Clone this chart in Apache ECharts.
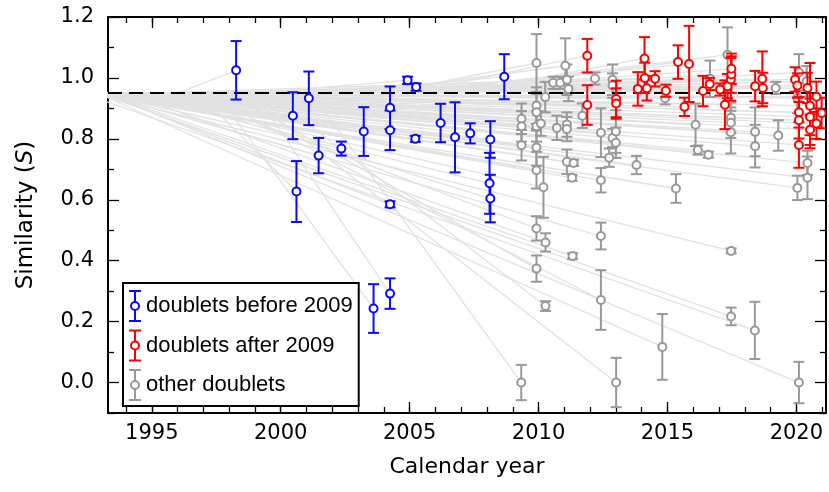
<!DOCTYPE html>
<html><head><meta charset="utf-8">
<script src="https://cdn.jsdelivr.net/npm/echarts@6/dist/echarts.min.js"></script>
<style>html,body{margin:0;padding:0;background:#fff}#c{width:829px;height:492px}</style>
</head><body><div id="c"></div>
<script>
const xMin = 1993.3, xMax = 2021.15, yMin = -0.1, yMax = 1.2;
const threshold = 0.95;
const xMajor = [1995, 2000, 2005, 2010, 2015, 2020];
const xMinor = [1994,1995,1996,1997,1998,1999,2000,2001,2002,2003,2004,2005,2006,2007,2008,2009,2010,2011,2012,2013,2014,2015,2016,2017,2018,2019,2020,2021];
const yMajor = [0, 0.2, 0.4, 0.6, 0.8, 1.0, 1.2];
const yMinor = [-0.1, 0.1, 0.3, 0.5, 0.7, 0.9, 1.1];

// doublets before 2009 (blue)
const blueYear  = [1998.27,2000.47,2000.61,2001.09,2001.47,2002.35,2003.22,2003.6,2004.24,2004.24,2004.24,2004.24,2004.92,2005.25,2005.22,2006.2,2006.76,2007.35,2008.13,2008.1,2008.13,2008.67];
const blueS     = [1.025,0.876,0.627,0.933,0.745,0.768,0.824,0.243,0.902,0.828,0.585,0.292,0.992,0.97,0.80,0.852,0.805,0.818,0.798,0.654,0.604,1.004];
const blueErr   = [0.096,0.077,0.10,0.088,0.058,0.023,0.08,0.08,0.07,0.065,0.01,0.05,0.012,0.012,0.01,0.063,0.115,0.033,0.06,0.10,0.078,0.074];
const blueStart = [1996.0,1992.9,1996.8,1992.7,1993.0,1992.9,1992.7,1997.5,1992.5,1993.0,1993.1,1999,1999,1996,1992.9,1993.1,1993.0,1992.7,1992.9,1994,1995,2002];

// doublets after 2009 (red)
const redYear  = [2011.89,2011.89,2013.01,2013.01,2013.85,2014.11,2014.12,2014.2,2014.52,2014.94,2015.41,2015.84,2015.66,2016.38,2016.64,2017.04,2017.33,2017.23,2017.46,2017.48,2017.48,2018.4,2018.68,2018.7,2019.95,2020.04,2020.1,2020.1,2020.1,2020.43,2020.53,2020.53,2020.53,2020.78,2020.78,2020.98];
const redS     = [1.073,0.911,0.931,0.916,0.964,1.064,1.0,0.966,0.997,0.958,1.052,1.046,0.905,0.957,0.98,0.962,0.973,0.912,0.995,1.011,1.03,0.973,0.997,0.967,0.995,0.975,0.887,0.861,0.78,0.967,0.909,0.872,0.83,0.938,0.85,0.885];
const redErr   = [0.055,0.065,0.06,0.05,0.055,0.07,0.05,0.04,0.025,0.02,0.055,0.125,0.03,0.05,0.02,0.02,0.04,0.08,0.07,0.06,0.05,0.05,0.09,0.05,0.04,0.04,0.05,0.06,0.075,0.05,0.14,0.06,0.05,0.05,0.05,0.05];
const redStart = [2005,1992.9,1993.0,1992.7,1998,2007,2001,1996,2000,1994,2006,2004,1992.9,1995,1999,1993.1,1997,1992.7,2000,2002,2004,1998,2001,1996,2000,1997,1992.9,1992.7,1992.5,1995,1993.0,1992.7,1992.9,1993.1,1992.7,1993.0];

// other doublets (gray)
const grayYear  = [2009.34,2009.34,2009.34,2009.92,2009.92,2009.92,2009.92,2009.92,2009.92,2010.09,2010.19,2010.26,2010.57,2010.84,2010.71,2011.04,2011.1,2011.16,2011.1,2011.1,2011.1,2011.36,2011.3,2011.7,2012.19,2012.42,2012.42,2012.74,2012.87,2013.0,2013.0,2012.87,2012.87,2013.8,2014.91,2015.33,2016.09,2016.18,2016.59,2016.65,2017.33,2017.46,2017.46,2017.46,2018.4,2018.4,2019.2,2019.3,2020.04,2020.43,2020.43,2020.1,2020.4,2020.04,
  2009.92,2010.27,2009.92,2010.27,2011.32,2012.42,2012.42,2014.8,2017.47,2017.47,2018.39,2020.1,2009.33,2013.01];
const grayS     = [0.866,0.841,0.779,1.049,0.909,0.887,0.841,0.772,0.697,0.85,0.641,0.937,0.984,0.984,0.836,1.04,0.994,0.964,0.847,0.832,0.725,0.721,0.672,0.876,0.998,0.82,0.664,0.738,0.803,0.824,0.787,0.994,0.975,0.714,0.933,0.637,0.846,0.763,0.748,0.997,1.076,0.869,0.853,0.822,0.823,0.776,0.967,0.811,0.639,0.672,0.721,1.018,0.989,0.934,
  0.506,0.46,0.374,0.251,0.415,0.481,0.271,0.117,0.432,0.217,0.171,0.0,0.0,0.0];
const grayErr   = [0.05,0.05,0.05,0.095,0.06,0.06,0.05,0.06,0.06,0.04,0.1,0.05,0.02,0.02,0.04,0.09,0.05,0.04,0.04,0.04,0.04,0.01,0.01,0.04,0.02,0.08,0.04,0.03,0.03,0.07,0.05,0.05,0.04,0.03,0.02,0.047,0.07,0.015,0.01,0.06,0.09,0.05,0.05,0.07,0.08,0.07,0.02,0.05,0.04,0.07,0.04,0.06,0.05,0.05,
  0.04,0.03,0.043,0.016,0.01,0.044,0.098,0.108,0.008,0.029,0.094,0.068,0.058,0.081];
const grayStart = [1992.9,1993.0,1992.7,2004,1992.9,1992.7,1993.05,1992.7,1992.5,1993.1,1994,1992.9,2000,1997,1993.1,2003,1995,1992.9,1994,1995,1993.0,1992.5,1992.7,1992.9,1998,1992.7,1992.9,1992.5,1993.0,1992.7,1992.9,2001,1996,1992.7,1993.0,1992.5,1992.9,1992.7,1993.0,2002,2005,1992.7,1992.9,1993.0,1992.7,1992.5,1999,1992.9,1992.7,1992.5,1992.9,2006,2003,1993.0,
  1996,1994,1998,1999.5,1993.1,1993.0,1997,1992.9,1992.7,1992.9,1992.3,1993.2,2001.2,1998.6];

const legendNames = ['doublets before 2009', 'doublets after 2009', 'other doublets'];
const colBlue = '#0a0aff', colRed = '#ff0000', colGray = '#999999';

function pts(years, s, err) { return years.map((x, i) => [x, s[i], err[i]]); }
function links(years, s, start) { return years.map((x, i) => ({ coords: [[start[i], threshold], [x, s[i]]] })); }

function errRender(color) {
  return function (params, api) {
    const x = api.value(0), y = api.value(1), e = api.value(2);
    const top = api.coord([x, y + e]), bot = api.coord([x, y - e]);
    const hw = 5.5;
    const st = { stroke: color, lineWidth: 2, fill: null };
    return { type: 'group', children: [
      { type: 'line', shape: { x1: top[0], y1: top[1], x2: bot[0], y2: bot[1] }, style: st },
      { type: 'line', shape: { x1: top[0] - hw, y1: top[1], x2: top[0] + hw, y2: top[1] }, style: st },
      { type: 'line', shape: { x1: bot[0] - hw, y1: bot[1], x2: bot[0] + hw, y2: bot[1] }, style: st }
    ]};
  };
}
function errSeries(name, data, color, z) {
  return { name: name, type: 'custom', xAxisIndex: 0, yAxisIndex: 0, renderItem: errRender(color),
    data: data, encode: { x: 0, y: 1 }, z: z, clip: true, silent: true, animation: false };
}
function dotSeries(name, data, color, z) {
  return { name: name, type: 'scatter', xAxisIndex: 0, yAxisIndex: 0, data: data.map(d => [d[0], d[1]]),
    symbol: 'circle', symbolSize: 8, z: z,
    itemStyle: { color: '#fff', borderColor: color, borderWidth: 2, opacity: 1 }, silent: true, animation: false };
}

const tickFont = { fontFamily: 'DejaVu Sans', fontSize: 21, color: '#000' };
function axLine(major) { return { show: major, onZero: false, lineStyle: { color: '#000', width: 2 } }; }
function xAx(pos, vals, len, major, extra) {
  return Object.assign({ type: 'value', position: pos, min: xMin, max: xMax,
    axisLine: axLine(major),
    axisTick: { show: true, inside: true, length: len, customValues: vals, lineStyle: { color: '#000', width: 1.3 } },
    axisLabel: { show: false }, splitLine: { show: false } }, extra || {});
}
function yAx(pos, vals, len, major, extra) {
  return Object.assign({ type: 'value', position: pos, min: yMin, max: yMax,
    axisLine: axLine(major),
    axisTick: { show: true, inside: true, length: len, customValues: vals, lineStyle: { color: '#000', width: 1.3 } },
    axisLabel: { show: false }, splitLine: { show: false } }, extra || {});
}

const iconPath = 'path://M0,0L12,0M6,0L6,11M6,19L6,30M0,30L12,30M10,15A4,4,0,1,1,2,15A4,4,0,1,1,10,15Z';

const allLinks = [].concat(links(grayYear, grayS, grayStart), links(blueYear, blueS, blueStart), links(redYear, redS, redStart));

const option = {
  animation: false,
  backgroundColor: '#fff',
  grid: { left: 108, right: 3, top: 17, bottom: 79, containLabel: false },
  xAxis: [
    xAx('bottom', xMajor, 11, true, {
      axisLabel: Object.assign({ show: true, customValues: xMajor, margin: 10, formatter: v => String(Math.round(v)) }, tickFont),
      name: 'Calendar year', nameLocation: 'middle', nameGap: 43,
      nameTextStyle: { fontFamily: 'DejaVu Sans', fontSize: 22, color: '#000' } }),
    xAx('bottom', xMinor, 6, false),
    xAx('top', xMajor, 11, true),
    xAx('top', xMinor, 6, false)
  ],
  yAxis: [
    yAx('left', yMajor, 11, true, {
      axisLabel: Object.assign({ show: true, customValues: yMajor, margin: 14, formatter: v => v.toFixed(1) }, tickFont),
      name: '{a|Similarity (}{b|S}{a|)}', nameLocation: 'middle', nameRotate: 90, nameGap: 70,
      nameTextStyle: { rich: {
        a: { fontFamily: 'DejaVu Sans', fontSize: 23, color: '#000' },
        b: { fontFamily: 'DejaVu Sans', fontSize: 23, fontStyle: 'italic', color: '#000' } } } }),
    yAx('left', yMinor, 6, false),
    yAx('right', yMajor, 11, true),
    yAx('right', yMinor, 6, false)
  ],
  legend: {
    show: true, orient: 'vertical', left: 123, top: 283, padding: [7, 6, 5, 5], itemGap: 7.5,
    itemWidth: 12, itemHeight: 30, borderColor: '#000', borderWidth: 2, backgroundColor: '#fff',
    selectedMode: false, z: 50,
    textStyle: { fontFamily: 'Liberation Sans', fontSize: 22, color: '#000' },
    data: legendNames.map(n => ({ name: n, icon: iconPath }))
  },
  series: [
    { name: 'links', type: 'lines', coordinateSystem: 'cartesian2d', xAxisIndex: 0, yAxisIndex: 0,
      data: allLinks, clip: true, silent: true, z: 1,
      lineStyle: { color: '#e2e2e2', width: 1.3, opacity: 1, curveness: 0 } },
    { name: 'threshold', type: 'line', xAxisIndex: 0, yAxisIndex: 0, data: [], z: 2, silent: true,
      markLine: { silent: true, symbol: 'none', label: { show: false }, animation: false,
        lineStyle: { color: '#000', type: [14, 7], width: 2 }, data: [{ yAxis: threshold }] } },
    errSeries('gray err', pts(grayYear, grayS, grayErr), colGray, 3),
    dotSeries(legendNames[2], pts(grayYear, grayS, grayErr), colGray, 4),
    errSeries('blue err', pts(blueYear, blueS, blueErr), colBlue, 5),
    dotSeries(legendNames[0], pts(blueYear, blueS, blueErr), colBlue, 6),
    errSeries('red err', pts(redYear, redS, redErr), colRed, 7),
    dotSeries(legendNames[1], pts(redYear, redS, redErr), colRed, 8)
  ]
};
const chart = echarts.init(document.getElementById('c'), null, { renderer: 'canvas' });
chart.setOption(option);
</script></body></html>
